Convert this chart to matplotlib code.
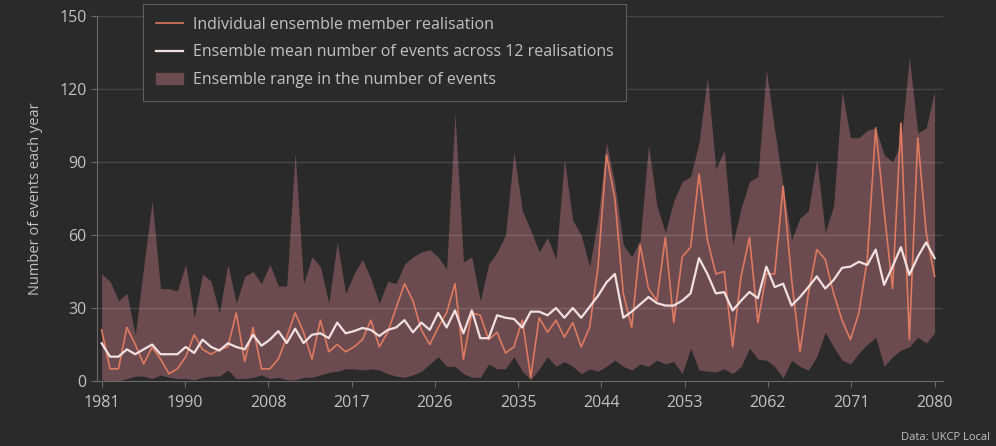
import matplotlib
matplotlib.use("Agg")
import matplotlib.pyplot as plt
from matplotlib.patches import Patch
from matplotlib.lines import Line2D
import numpy as np

years = list(range(1981, 2081))

ens_max = [44, 41, 33, 36, 19, 47, 74, 38, 38, 37,
           48, 26, 44, 41, 28, 48, 32, 43, 45, 40,
           48, 39, 39, 94, 40, 51, 47, 32, 57, 36,
           44, 50, 42, 32, 41, 40, 48, 51, 53, 54,
           51, 46, 110, 49, 51, 33, 48, 53, 60, 94,
           70, 62, 53, 59, 50, 91, 66, 60, 47, 67,
           98, 81, 56, 51, 58, 97, 72, 61, 74, 82,
           84, 98, 125, 87, 95, 56, 71, 82, 84, 128,
           103, 80, 58, 67, 70, 91, 61, 72, 119, 100,
           100, 103, 104, 93, 90, 98, 133, 102, 104, 119]

ens_min = [0.5, 0, 0, 1, 2, 2, 1, 2.5, 1.5, 1,
           1, 0.5, 1.5, 2, 2, 4.5, 1, 1, 1.5, 2.5,
           1, 1.5, 0.5, 0.5, 1.5, 1.5, 2.5, 3.5, 4, 5,
           5, 4.5, 5, 4.5, 3, 2, 1.5, 2.5, 4, 7,
           10, 6, 6, 3, 1.5, 1.5, 7, 5, 5, 10,
           4, 0.5, 5, 10, 6, 8, 6, 3, 5, 4,
           6, 8.6, 6, 4.5, 7, 6, 8.6, 7, 8, 3,
           13.5, 4.5, 4, 3.7, 5, 3, 6, 13.5, 9, 8.6,
           6, 1.2, 8.6, 6, 4.5, 10, 20, 14, 8.6, 7,
           11.5, 15, 18, 6, 10, 12.7, 14, 18, 15.6, 19.7]

member = [21, 5, 5, 22, 15, 7, 14, 9, 3, 5,
          10, 19, 13, 11, 13, 14, 28, 8, 22, 5,
          5, 9, 18, 28, 20, 9, 25, 12, 15, 12,
          14, 17, 25, 14, 20, 30, 40, 33, 21, 15,
          22, 28, 40, 9, 28, 27, 17, 20, 11.5, 14,
          25, 1.5, 26, 20, 25, 18, 24, 14, 22, 47,
          93, 75, 36, 22, 56, 38, 33, 59, 24, 51,
          55, 85, 58, 44, 45, 14, 43, 59, 24, 44,
          44, 80, 42, 12, 36, 54, 50, 36, 25, 17,
          28, 50, 104, 70, 38, 106, 17, 100, 61, 43]

ens_mean = [15.5, 10, 10, 13, 11, 13, 15, 11, 11, 11,
            14, 11.5, 17, 14, 12.5, 15.5, 14, 13, 19, 14.5,
            17, 20.5, 15.6, 21.5, 15.6, 19, 19.6, 17.6, 24, 19.6,
            20.5, 21.8, 21, 18.5, 21, 22, 25, 20, 24, 21,
            28, 22, 29, 19.6, 29, 17.6, 17.6, 27, 26, 25.5,
            22, 28.5, 28.5, 27, 30, 26, 30, 26, 30.5, 35,
            40.5, 44, 26, 28.5, 31.5, 34.5, 32, 31, 31, 33,
            36, 50.5, 44, 36, 36.5, 29, 33, 36.6, 34, 47,
            38.6, 40, 31, 34.5, 38.6, 43, 38, 41.5, 46.5, 47,
            49, 47.7, 54, 39.5, 47, 55, 43.6, 51, 57, 50.5]

tick_labels = ["1981", "1990", "2008", "2017", "2026", "2035",
               "2044", "2053", "2062", "2071", "2080"]
y_ticks = [0, 30, 60, 90, 120, 150]

legend_labels = ["Individual ensemble member realisation",
                 "Ensemble mean number of events across 12 realisations",
                 "Ensemble range in the number of events"]

BG = "#2a2a2a"
FILL = "#6b4b4f"
ORANGE = "#de7a60"
MEAN = "#f2e0e0"
TXT = "#c2c2c2"
AX = "#6a6a6a"

plt.rcParams['font.family'] = ['Open Sans', 'DejaVu Sans']

fig = plt.figure(figsize=(9.96, 4.46), dpi=100, facecolor=BG)
ax = fig.add_axes([97/996, 65/446, (943-97)/996, (381-16)/446])
ax.set_facecolor(BG)

ax.fill_between(years, ens_min, ens_max, color=FILL, linewidth=0, zorder=2)
for y in y_ticks[1:]:
    ax.axhline(y, color="#ffffff", alpha=0.13, lw=1, zorder=3)
ax.plot(years, member, color=ORANGE, lw=1.2, zorder=4)
ax.plot(years, ens_mean, color=MEAN, lw=1.6, zorder=5)

ax.set_xlim(1980.45, 2081.0)
ax.set_ylim(0, 150)
ax.set_xticks(np.linspace(1981, 2080, len(tick_labels)))
ax.set_xticklabels(tick_labels)
ax.set_yticks(y_ticks)
ax.tick_params(colors=AX, labelcolor=TXT, labelsize=11.5, length=4, width=0.8)
ax.tick_params(axis='x', pad=6)
for s in ["top", "right"]:
    ax.spines[s].set_visible(False)
for s in ["left", "bottom"]:
    ax.spines[s].set_color(AX)
    ax.spines[s].set_linewidth(0.8)
    ax.spines[s].set_zorder(6)

ax.set_ylabel("Number of events each year", color=TXT, fontsize=10.5, labelpad=12)

handles = [Line2D([0], [0], color=ORANGE, lw=1.2),
           Line2D([0], [0], color=MEAN, lw=1.6),
           Patch(facecolor=FILL, edgecolor=FILL)]
leg = fig.legend(handles, legend_labels, loc="upper left",
                 bbox_to_anchor=(143/996, 1 - 4/446), frameon=True,
                 facecolor=BG, edgecolor="#5e5e5e", fontsize=11.5,
                 labelcolor=TXT, borderaxespad=0, handlelength=1.7,
                 handletextpad=0.6, labelspacing=0.72, borderpad=0.8,
                 fancybox=False, framealpha=1)
leg.get_frame().set_linewidth(0.8)

fig.text(990/996, 1 - 438/446, "Data: UKCP Local", color=TXT, fontsize=8,
         ha="right", va="center")

fig.savefig("out.png", dpi=100, facecolor=BG)
